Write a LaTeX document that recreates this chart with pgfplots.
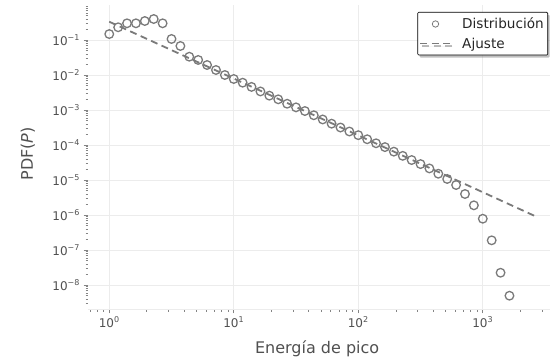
\documentclass[border=0pt]{standalone}
\usepackage{fontspec}
\setmainfont{DejaVu Sans}
\usepackage{pgfplots}
\pgfplotsset{compat=1.18}
\usetikzlibrary{shadows}
\definecolor{mk}{RGB}{122,122,122}
\definecolor{txt}{RGB}{80,80,80}
\definecolor{grd}{RGB}{236,236,236}
\pgfplotsset{
  markleg/.style={legend image code/.code={\draw[##1, mark size=3.2pt, line width=0.8pt] plot coordinates {(15pt,0pt)};}},
  lineleg/.style={legend image code/.code={\draw[##1, line width=1.5pt, dash pattern=on 7pt off 4.5pt] (0pt,0pt) -- (30pt,0pt);}},
}
\begin{document}
\begin{tikzpicture}
\begin{axis}[
  xmode=log, ymode=log, log basis x=10, log basis y=10,
  scale only axis, width=462pt, height=304pt,
  xmin=0.675, xmax=3467, ymin=2.06e-9, ymax=1,
  axis lines*=left, axis line style={-},
  x axis line style={draw=grd, line width=0.8pt},
  y axis line style={draw=none},
  tick align=outside,
  major tick length=4.5pt, minor tick length=2.5pt,
  tick style={color=txt!70, line width=0.7pt},
  minor tick style={line width=0.5pt},
  grid=major, major grid style={draw=grd, line width=0.9pt},
  xtick={1,10,100,1000},
  minor xtick={0.7,0.8,0.9,2,3,4,5,6,7,8,9,20,30,40,50,60,70,80,90,200,300,400,500,600,700,800,900,2000,3000},
  xticklabels={10\textsuperscript{0},10\textsuperscript{1},10\textsuperscript{2},10\textsuperscript{3}},
  ytick={1e-8,1e-7,1e-6,1e-5,1e-4,1e-3,1e-2,1e-1},
  minor ytick={3e-9,4e-9,5e-9,6e-9,7e-9,8e-9,9e-9,
    2e-8,3e-8,4e-8,5e-8,6e-8,7e-8,8e-8,9e-8,
    2e-7,3e-7,4e-7,5e-7,6e-7,7e-7,8e-7,9e-7,
    2e-6,3e-6,4e-6,5e-6,6e-6,7e-6,8e-6,9e-6,
    2e-5,3e-5,4e-5,5e-5,6e-5,7e-5,8e-5,9e-5,
    2e-4,3e-4,4e-4,5e-4,6e-4,7e-4,8e-4,9e-4,
    2e-3,3e-3,4e-3,5e-3,6e-3,7e-3,8e-3,9e-3,
    2e-2,3e-2,4e-2,5e-2,6e-2,7e-2,8e-2,9e-2,
    2e-1,3e-1,4e-1,5e-1,6e-1,7e-1,8e-1,9e-1},
  yticklabels={10\textsuperscript{−8},10\textsuperscript{−7},10\textsuperscript{−6},10\textsuperscript{−5},10\textsuperscript{−4},10\textsuperscript{−3},10\textsuperscript{−2},10\textsuperscript{−1}},
  ticklabel style={font=\fontsize{12}{14}\selectfont, text=txt},
  xlabel={Energía de pico},
  ylabel={PDF(\textit{P})},
  every axis x label/.style={at={(axis description cs:0.496,-0.131)}, anchor=center, font=\fontsize{16}{19}\selectfont, text=txt},
  every axis y label/.style={at={(axis description cs:-0.13,0.51)}, anchor=center, rotate=90, font=\fontsize{16}{19}\selectfont, text=txt},
  legend cell align=left,
  legend style={at={(axis description cs:0.9957,0.977)}, anchor=north east,
    font=\fontsize{13.6}{16}\selectfont, text=black!85,
    draw=black, line width=0.6pt, fill=white, rounded corners=1pt,
    drop shadow={shadow xshift=2pt, shadow yshift=-2.5pt, fill=black!50},
    inner xsep=2pt, inner ysep=3.5pt, row sep=3.5pt,
    /tikz/every odd column/.append style={column sep=9pt}},
]
\addplot[only marks, mark=o, mark size=4.3pt, line width=1.3pt, color=mk, markleg]
  coordinates {
  (1,0.148) (1.179,0.231) (1.389,0.300) (1.638,0.300) (1.931,0.349)
  (2.276,0.398) (2.683,0.300) (3.162,0.107) (3.728,0.0675) (4.394,0.0333)
  (5.179,0.0269) (6.105,0.0193) (7.197,0.0139) (8.483,0.0100) (10,0.00769)
  (11.79,0.00603) (13.89,0.00457) (16.38,0.00339) (19.31,0.00257) (22.76,0.00202)
  (26.83,0.00151) (31.62,0.00119) (37.28,9.35e-4) (43.94,7.08e-4) (51.79,5.37e-4)
  (61.05,4.07e-4) (71.97,3.16e-4) (84.83,2.43e-4) (100,1.91e-4) (117.9,1.46e-4)
  (138.9,1.12e-4) (163.8,8.71e-5) (193.1,6.46e-5) (227.6,4.90e-5) (268.3,3.72e-5)
  (316.2,2.85e-5) (372.8,2.14e-5) (439.4,1.51e-5) (517.9,1.07e-5) (610.5,7.19e-6)
  (719.7,3.98e-6) (848.3,1.89e-6) (1000,7.83e-7) (1179,1.89e-7) (1389,2.24e-8)
  (1638,4.94e-9)
  };
\addlegendentry{Distribución}
\addplot[mk, line width=1.8pt, dash pattern=on 7pt off 4.5pt, lineleg]
  coordinates {(1,0.333) (2626,9.33e-7)};
\addlegendentry{Ajuste}
\end{axis}
\pgfresetboundingbox
\path[use as bounding box] (-88pt,-51pt) rectangle (471pt,309pt);
\end{tikzpicture}
\end{document}
